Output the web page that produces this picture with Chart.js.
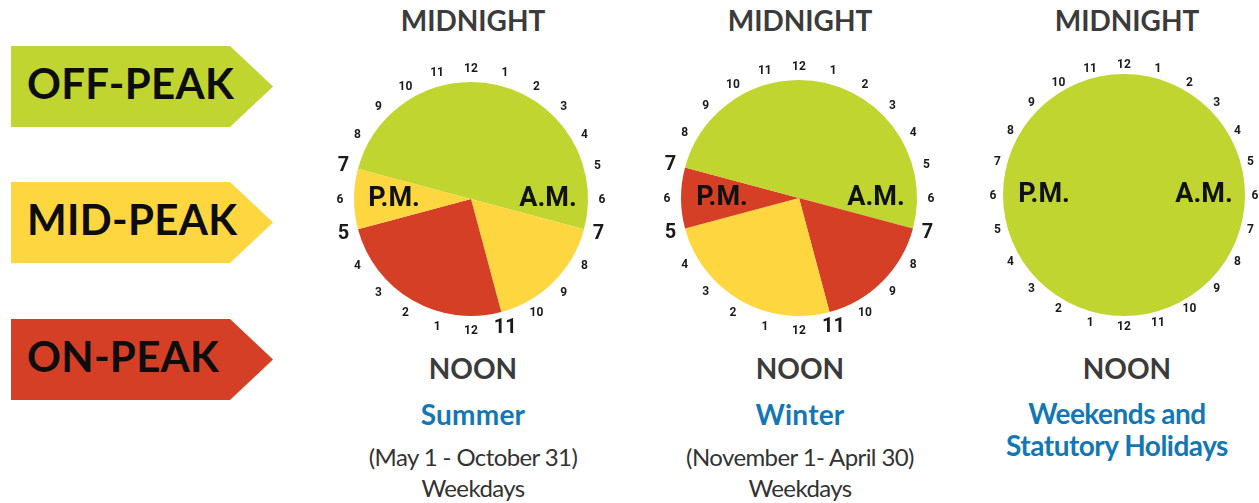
<!DOCTYPE html>
<html>
<head>
<meta charset="utf-8">
<script src="https://cdn.jsdelivr.net/npm/chart.js@4/dist/chart.umd.min.js"></script>
<style>
  html,body{margin:0;padding:0;background:#fff;width:1259px;height:503px;overflow:hidden;}
  body{position:relative;font-family:Lato,"Open Sans",sans-serif;}
  .arrow{position:absolute;left:11px;width:262px;height:81px;clip-path:polygon(0 0,219px 0,262px 50%,219px 100%,0 100%);}
  .arrow span{position:absolute;left:16px;top:12px;line-height:60px;font:700 42px Lato,sans-serif;color:#0d0d0d;letter-spacing:0.3px;}
  .hdr{position:absolute;width:300px;text-align:center;font:700 28px Lato,sans-serif;color:#3b3b3b;}
  .season{position:absolute;width:340px;text-align:center;font:700 28px Lato,sans-serif;color:#1477b5;letter-spacing:0.2px;}
  .sub{position:absolute;width:340px;text-align:center;font:400 24px Lato,sans-serif;color:#333;letter-spacing:-0.6px;line-height:31px;}
  canvas{position:absolute;}
</style>
</head>
<body>
<div id="legend"></div>
<canvas id="c0" width="300" height="300" style="left:321px;top:49px"></canvas>
<canvas id="c1" width="300" height="300" style="left:649px;top:48px"></canvas>
<canvas id="c2" width="300" height="300" style="left:974px;top:45px"></canvas>
<div id="texts"></div>
<script>
// ---- data ----
const rateNames = ['OFF-PEAK', 'MID-PEAK', 'ON-PEAK'];
const rateColors = ['#c0d52f', '#fed640', '#d53f26'];
const hourLabels = ['12','1','2','3','4','5','6','7','8','9','10','11',
                    '12','1','2','3','4','5','6','7','8','9','10','11'];
// segments clockwise from midnight
const summerHours = [7, 4, 6, 2, 5];
const summerRates = [0, 1, 2, 1, 0];
const winterHours = [7, 4, 6, 2, 5];
const winterRates = [0, 2, 1, 2, 0];
const weekendHours = [24];
const weekendRates = [0];
const summerBig = [7, 11, 17, 19];
const winterBig = [7, 11, 17, 19];
const weekendBig = [];
const titles = ['Summer', 'Winter', 'Weekends and<br>Statutory Holidays'];
const subtitles = ['(May 1 - October 31)<br>Weekdays', '(November 1- April 30)<br>Weekdays', ''];

// ---- legend arrows ----
const legendTops = [46, 182, 319];
const legend = document.getElementById('legend');
rateNames.forEach((n, i) => {
  const d = document.createElement('div');
  d.className = 'arrow';
  d.style.top = legendTops[i] + 'px';
  d.style.background = rateColors[i];
  d.innerHTML = '<span>' + n + '</span>';
  legend.appendChild(d);
});

// ---- text blocks ----
const centersX = [473, 800, 1127];
const texts = document.getElementById('texts');
centersX.forEach((cx, i) => {
  const add = (cls, html, top, w, extra) => {
    const d = document.createElement('div');
    d.className = cls;
    d.innerHTML = html;
    d.style.top = top + 'px';
    d.style.left = (cx - w / 2) + 'px';
    if (extra) Object.assign(d.style, extra);
    texts.appendChild(d);
  };
  add('hdr', 'MIDNIGHT', 3, 300);
  add('hdr', 'NOON', 351, 300);
  if (i < 2) {
    add('season', titles[i], 397, 340);
    add('sub', subtitles[i], 441, 340);
  } else {
    const d = document.createElement('div');
    d.className = 'season';
    d.innerHTML = titles[i];
    d.style.top = '397px';
    d.style.left = (cx - 10 - 170) + 'px';
    d.style.lineHeight = '32px';
    d.style.letterSpacing = '-0.5px';
    texts.appendChild(d);
  }
});

// ---- clock label plugin ----
const clockPlugin = {
  id: 'clock',
  afterDatasetsDraw(chart, args, opts) {
    const arc = chart.getDatasetMeta(0).data[0];
    const {x, y, outerRadius} = arc;
    const ctx = chart.ctx;
    ctx.save();
    ctx.fillStyle = '#1a1a1a';
    ctx.textAlign = 'center';
    ctx.textBaseline = 'middle';
    hourLabels.forEach((lab, i) => {
      const big = opts.big.includes(i);
      const ang = i / 24 * Math.PI * 2 - Math.PI / 2;
      const r = outerRadius + opts.offset + (big ? 1 : 0);
      ctx.font = big ? '700 20px Roboto, sans-serif' : '700 12px Roboto, sans-serif';
      ctx.fillText(lab, x + r * Math.cos(ang), y + r * Math.sin(ang) + 1);
    });
    ctx.font = '700 27px Roboto, sans-serif';
    ctx.fillStyle = '#111';
    ctx.fillText('P.M.', x - opts.ampm, y);
    ctx.fillText('A.M.', x + opts.ampm, y);
    ctx.restore();
  }
};

function makePie(id, hours, rates, big, pad, offset, ampm) {
  new Chart(document.getElementById(id), {
    type: 'pie',
    data: {
      labels: rates.map(r => rateNames[r]),
      datasets: [{
        data: hours,
        backgroundColor: rates.map(r => rateColors[r]),
        borderWidth: 0
      }]
    },
    options: {
      responsive: false,
      animation: false,
      layout: {padding: pad},
      plugins: {
        legend: {display: false},
        tooltip: {enabled: false},
        clock: {big: big, offset: offset, ampm: ampm}
      }
    },
    plugins: [clockPlugin]
  });
}
makePie('c0', summerHours, summerRates, summerBig, 33, 14, 77);
makePie('c1', winterHours, winterRates, winterBig, 32, 14, 77);
makePie('c2', weekendHours, weekendRates, weekendBig, 29, 10, 80);
</script>
</body>
</html>
